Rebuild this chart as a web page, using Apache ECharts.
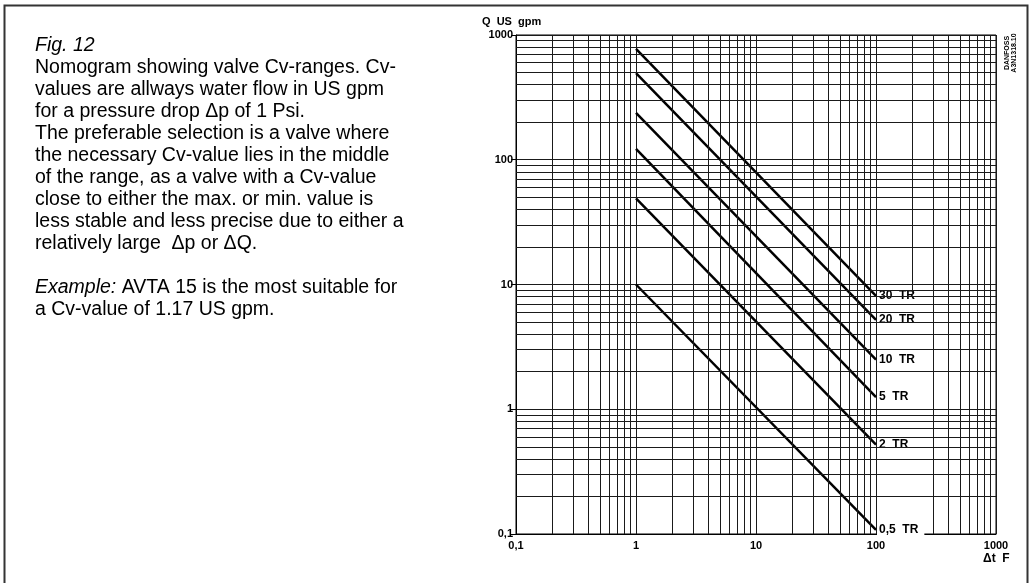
<!DOCTYPE html>
<html>
<head>
<meta charset="utf-8">
<script src="https://cdn.jsdelivr.net/npm/echarts@6/dist/echarts.min.js"></script>
<style>
  html, body { margin: 0; padding: 0; background: #fff; }
  #chart { width: 1031px; height: 583px; }
</style>
</head>
<body>
<div id="chart"></div>
<script>
// 数据：各冷量曲线在 Δt = 1 F 和 Δt = 100 F 时的流量 (US gpm)
var deltaT = [1, 100];
var capacities = ['30  TR', '20  TR', '10  TR', '5  TR', '2  TR', '0,5  TR'];
var qAtStart = [775, 495, 238, 122, 49, 10];
var qAtEnd = [8.1, 5.2, 2.5, 1.25, 0.52, 0.108];

// 对数网格的细分线 (每个十倍程里的 2..9)
var decades = [0.1, 1, 10, 100];
var minorSteps = [2, 3, 4, 5, 6, 7, 8, 9];

var gridColor = '#1a1a1a';
var minorLines = [];
decades.forEach(function (d) {
    minorSteps.forEach(function (s) {
        var v = +(d * s).toPrecision(3);
        if (v === 200) {
            // 原图中 200 这条竖线在标签区域被截断
            minorLines.push([{ coord: [200, 1000] }, { coord: [200, 8.6] }]);
        } else {
            minorLines.push({ xAxis: v });
        }
        minorLines.push({ yAxis: v });
    });
});

var commaFmt = function (v) { return String(v).replace('.', ','); };

var mycharts = echarts.init(document.getElementById('chart'));

var seriesList = [{
    name: 'grid',
    type: 'line',
    data: [],
    z: 1,
    silent: true,
    markLine: {
        silent: true,
        symbol: ['none', 'none'],
        animation: false,
        label: { show: false },
        lineStyle: { type: 'solid', color: gridColor, width: 1 },
        data: minorLines
    }
}];

capacities.forEach(function (name, i) {
    seriesList.push({
        name: name,
        type: 'line',
        z: 3,
        symbol: 'none',
        silent: true,
        lineStyle: { color: '#000', width: 2.5 },
        data: [[deltaT[0], qAtStart[i]], [deltaT[1], qAtEnd[i]]],
        endLabel: {
            show: true,
            formatter: name,
            distance: 1,
            color: '#000',
            fontFamily: 'Liberation Sans',
            fontWeight: 'bold',
            fontSize: 12,
            backgroundColor: '#fff',
            padding: [2, 6, 1, 2]
        }
    });
});

var textN = { fontFamily: 'Liberation Sans', fontSize: 19.5, lineHeight: 22, color: '#000', fontWeight: 'normal' };
var textI = { fontFamily: 'Liberation Sans', fontSize: 19.5, lineHeight: 22, color: '#000', fontWeight: 'normal', fontStyle: 'italic' };

var optionObj = {
    animation: false,
    title: {
        left: 35,
        top: 35,
        padding: 0,
        text: '{i|Fig. 12}\n' +
            '{n|Nomogram showing valve Cv-ranges. Cv-}\n' +
            '{n|values are allways water flow in US gpm}\n' +
            '{n|for a pressure drop Δp of 1 Psi.}\n' +
            '{n|The preferable selection is a valve where}\n' +
            '{n|the necessary Cv-value lies in the middle}\n' +
            '{n|of the range, as a valve with a Cv-value}\n' +
            '{n|close to either the max. or min. value is}\n' +
            '{n|less stable and less precise due to either a}\n' +
            '{n|relatively large  Δp or ΔQ.}\n' +
            '{n| }\n' +
            '{i|Example:}{n| AVTA 15 is the most suitable for}\n' +
            '{n|a Cv-value of 1.17 US gpm.}',
        textStyle: {
            fontWeight: 'normal',
            rich: { n: textN, i: textI }
        }
    },
    grid: {
        left: 516,
        top: 35,
        width: 480,
        height: 499,
        show: true,
        borderColor: '#000',
        borderWidth: 1
    },
    xAxis: {
        type: 'log',
        logBase: 10,
        min: 0.1,
        max: 1000,
        axisLine: { lineStyle: { color: '#000', width: 1 } },
        axisTick: { show: false },
        axisLabel: {
            formatter: commaFmt,
            color: '#000',
            fontFamily: 'Liberation Sans',
            fontWeight: 'bold',
            fontSize: 11,
            margin: 6
        },
        splitLine: { show: true, lineStyle: { color: gridColor, width: 1 } }
    },
    yAxis: {
        type: 'log',
        logBase: 10,
        min: 0.1,
        max: 1000,
        axisLine: { show: true, lineStyle: { color: '#000', width: 1 } },
        axisTick: { show: true, length: 5, lineStyle: { color: '#000' } },
        axisLabel: {
            formatter: commaFmt,
            color: '#000',
            fontFamily: 'Liberation Sans',
            fontWeight: 'bold',
            fontSize: 11,
            margin: 3
        },
        splitLine: { show: true, lineStyle: { color: gridColor, width: 1 } }
    },
    graphic: [
        {
            type: 'rect',
            silent: true,
            shape: { x: 4.5, y: 5.5, width: 1023, height: 640 },
            style: { fill: 'none', stroke: '#333', lineWidth: 2 }
        },
        {
            type: 'text',
            left: 482,
            top: 16,
            style: { text: 'Q  US  gpm', font: 'bold 11px Liberation Sans', fill: '#000' }
        },
        {
            type: 'text',
            left: 983,
            top: 553,
            style: { text: 'Δt  F', font: 'bold 12px Liberation Sans', fill: '#000' }
        },
        {
            type: 'text',
            x: 1011,
            y: 53,
            rotation: Math.PI / 2,
            style: {
                text: 'DANFOSS\nA3N1318.10',
                font: 'bold 7px Liberation Sans',
                fill: '#000',
                align: 'center',
                verticalAlign: 'middle'
            }
        }
    ],
    series: seriesList
};

mycharts.setOption(optionObj);
window.onresize = function () {
    mycharts.resize();
};
</script>
</body>
</html>
